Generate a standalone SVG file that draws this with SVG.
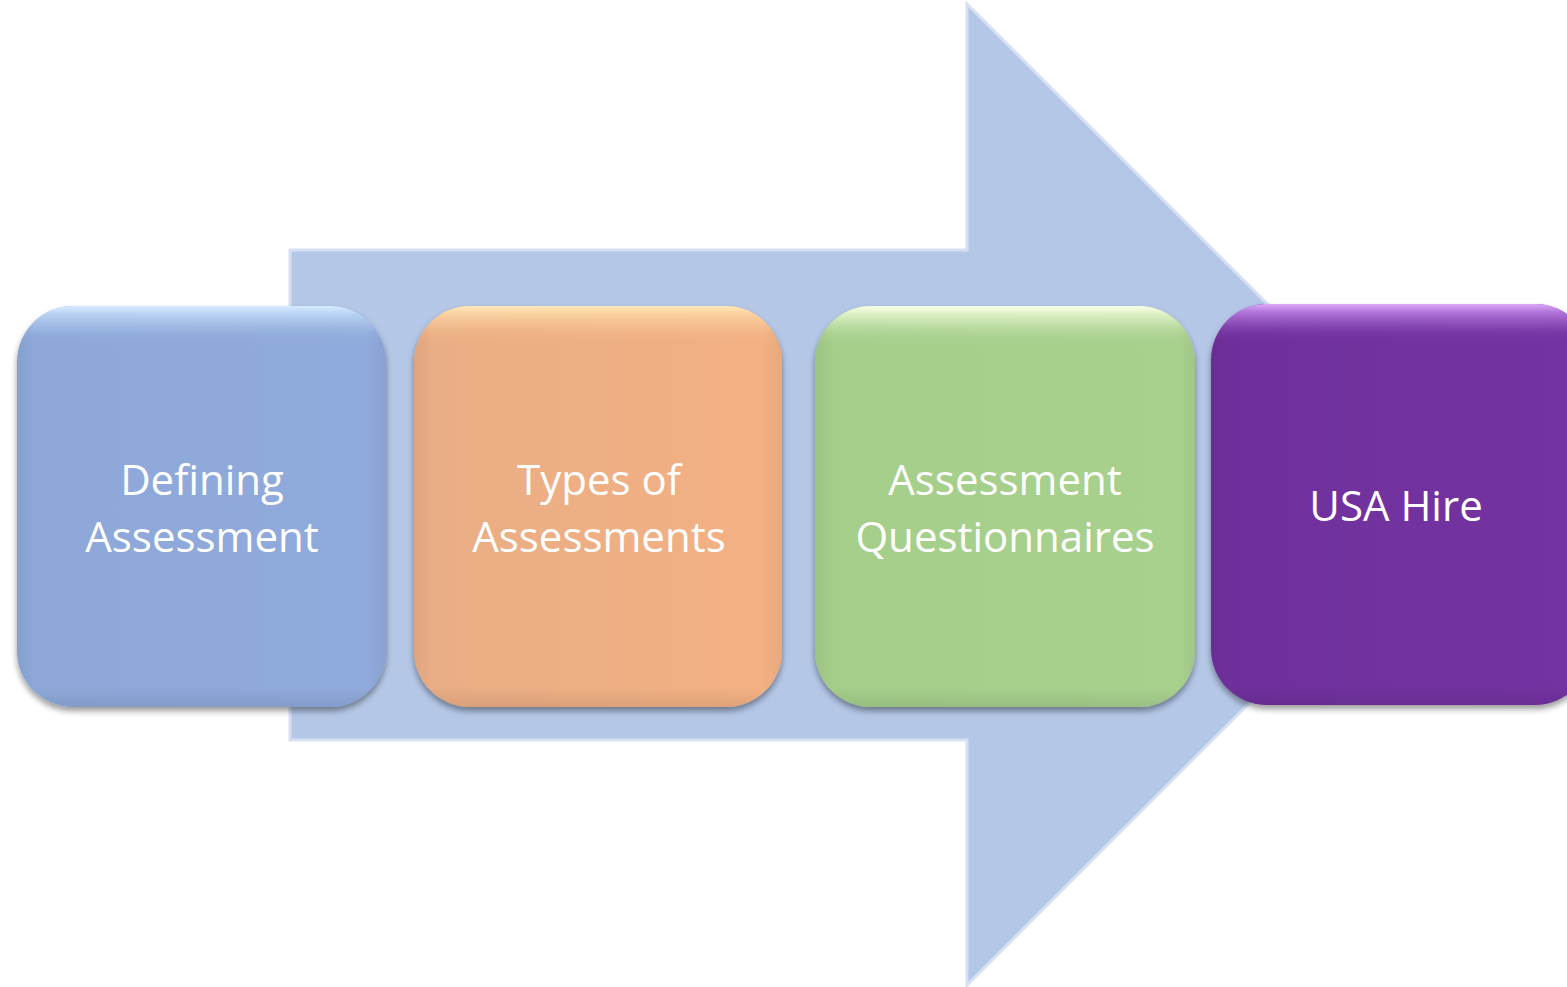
<svg xmlns="http://www.w3.org/2000/svg" width="1567" height="987" viewBox="0 0 1567 987">
<defs>
<filter id="sh" x="-10%" y="-10%" width="120%" height="125%">
<feGaussianBlur in="SourceAlpha" stdDeviation="3"/>
<feOffset dx="0" dy="4" result="b"/>
<feComponentTransfer><feFuncA type="linear" slope="0.4"/></feComponentTransfer>
<feMerge><feMergeNode/><feMergeNode in="SourceGraphic"/></feMerge>
</filter>
<linearGradient id="bevel" x1="0" y1="0" x2="0" y2="1">
<stop offset="0" stop-color="#fff" stop-opacity="0.3"/>
<stop offset="0.02" stop-color="#fff" stop-opacity="0.1"/>
<stop offset="0.07" stop-color="#fff" stop-opacity="0"/>
<stop offset="0.95" stop-color="#000" stop-opacity="0"/>
<stop offset="1" stop-color="#000" stop-opacity="0.08"/>
</linearGradient>
<linearGradient id="side" x1="0" y1="0" x2="1" y2="0">
<stop offset="0" stop-color="#000" stop-opacity="0.05"/>
<stop offset="0.05" stop-color="#000" stop-opacity="0"/>
<stop offset="0.95" stop-color="#000" stop-opacity="0"/>
<stop offset="1" stop-color="#000" stop-opacity="0.05"/>
</linearGradient>
<linearGradient id="g1" x1="0" y1="0" x2="1" y2="0"><stop offset="0" stop-color="#8DA8D8"/><stop offset="1" stop-color="#8FAADC"/></linearGradient>
<linearGradient id="g2" x1="0" y1="0" x2="1" y2="0"><stop offset="0" stop-color="#E9AD85"/><stop offset="1" stop-color="#F4B183"/></linearGradient>
<linearGradient id="g3" x1="0" y1="0" x2="1" y2="0"><stop offset="0" stop-color="#A4CE8A"/><stop offset="1" stop-color="#A9D18E"/></linearGradient>
<linearGradient id="g4" x1="0" y1="0" x2="1" y2="0"><stop offset="0" stop-color="#6F2F9C"/><stop offset="1" stop-color="#7432A2"/></linearGradient>
<linearGradient id="t1" x1="0" y1="0" x2="0" y2="1"><stop offset="0" stop-color="#C4E2FF"/><stop offset="0.1" stop-color="#8FAADC" stop-opacity="0"/></linearGradient>
<linearGradient id="t2" x1="0" y1="0" x2="0" y2="1"><stop offset="0" stop-color="#FFDC9E"/><stop offset="0.1" stop-color="#F0AE85" stop-opacity="0"/></linearGradient>
<linearGradient id="t3" x1="0" y1="0" x2="0" y2="1"><stop offset="0" stop-color="#F6FFDC"/><stop offset="0.1" stop-color="#A9D18E" stop-opacity="0"/></linearGradient>
<linearGradient id="t4" x1="0" y1="0" x2="0" y2="1"><stop offset="0" stop-color="#CA84F5"/><stop offset="0.1" stop-color="#7030A0" stop-opacity="0"/></linearGradient>
</defs>
<style>
.lbl{font-family:"Open Sans","Noto Sans",sans-serif;font-size:42px;fill:#fff;text-anchor:middle}
.ov{fill:url(#bevel)}
.sd{fill:url(#side)}
</style>
<rect width="1567" height="987" fill="#fff"/>
<g id="arrow">
<path d="M290,250 L967,250 L967,4 L1458,494.5 L967,985 L967,740 L290,740 Z" fill="#B4C7E7" stroke="#D5E0F3" stroke-width="3"/>
</g>
<g id="connectors"></g>
<g id="node1">
<rect x="17" y="306" width="369" height="401" rx="56" fill="url(#g1)" filter="url(#sh)"/>
<rect x="17" y="306" width="369" height="401" rx="56" fill="url(#t1)"/>
<rect x="17" y="306" width="369" height="401" rx="56" class="sd"/>
<rect x="17" y="306" width="369" height="401" rx="56" class="ov"/>
<text class="lbl" x="202" y="495">Defining</text>
<text class="lbl" x="202" y="552">Assessment</text>
</g>
<g id="node2">
<rect x="414" y="306" width="368" height="401" rx="56" fill="url(#g2)" filter="url(#sh)"/>
<rect x="414" y="306" width="368" height="401" rx="56" fill="url(#t2)"/>
<rect x="414" y="306" width="368" height="401" rx="56" class="sd"/>
<rect x="414" y="306" width="368" height="401" rx="56" class="ov"/>
<text class="lbl" x="599" y="495">Types of</text>
<text class="lbl" x="599" y="552">Assessments</text>
</g>
<g id="node3">
<rect x="815" y="306" width="380" height="401" rx="56" fill="url(#g3)" filter="url(#sh)"/>
<rect x="815" y="306" width="380" height="401" rx="56" fill="url(#t3)"/>
<rect x="815" y="306" width="380" height="401" rx="56" class="sd"/>
<rect x="815" y="306" width="380" height="401" rx="56" class="ov"/>
<text class="lbl" x="1005" y="495">Assessment</text>
<text class="lbl" x="1005" y="552">Questionnaires</text>
</g>
<g id="node4">
<rect x="1211" y="304" width="380" height="401" rx="56" fill="url(#g4)" filter="url(#sh)"/>
<rect x="1211" y="304" width="380" height="401" rx="56" fill="url(#t4)"/>
<rect x="1211" y="304" width="380" height="401" rx="56" class="sd"/>
<rect x="1211" y="304" width="380" height="401" rx="56" class="ov"/>
<text class="lbl" x="1396" y="521">USA Hire</text>
</g>
</svg>
